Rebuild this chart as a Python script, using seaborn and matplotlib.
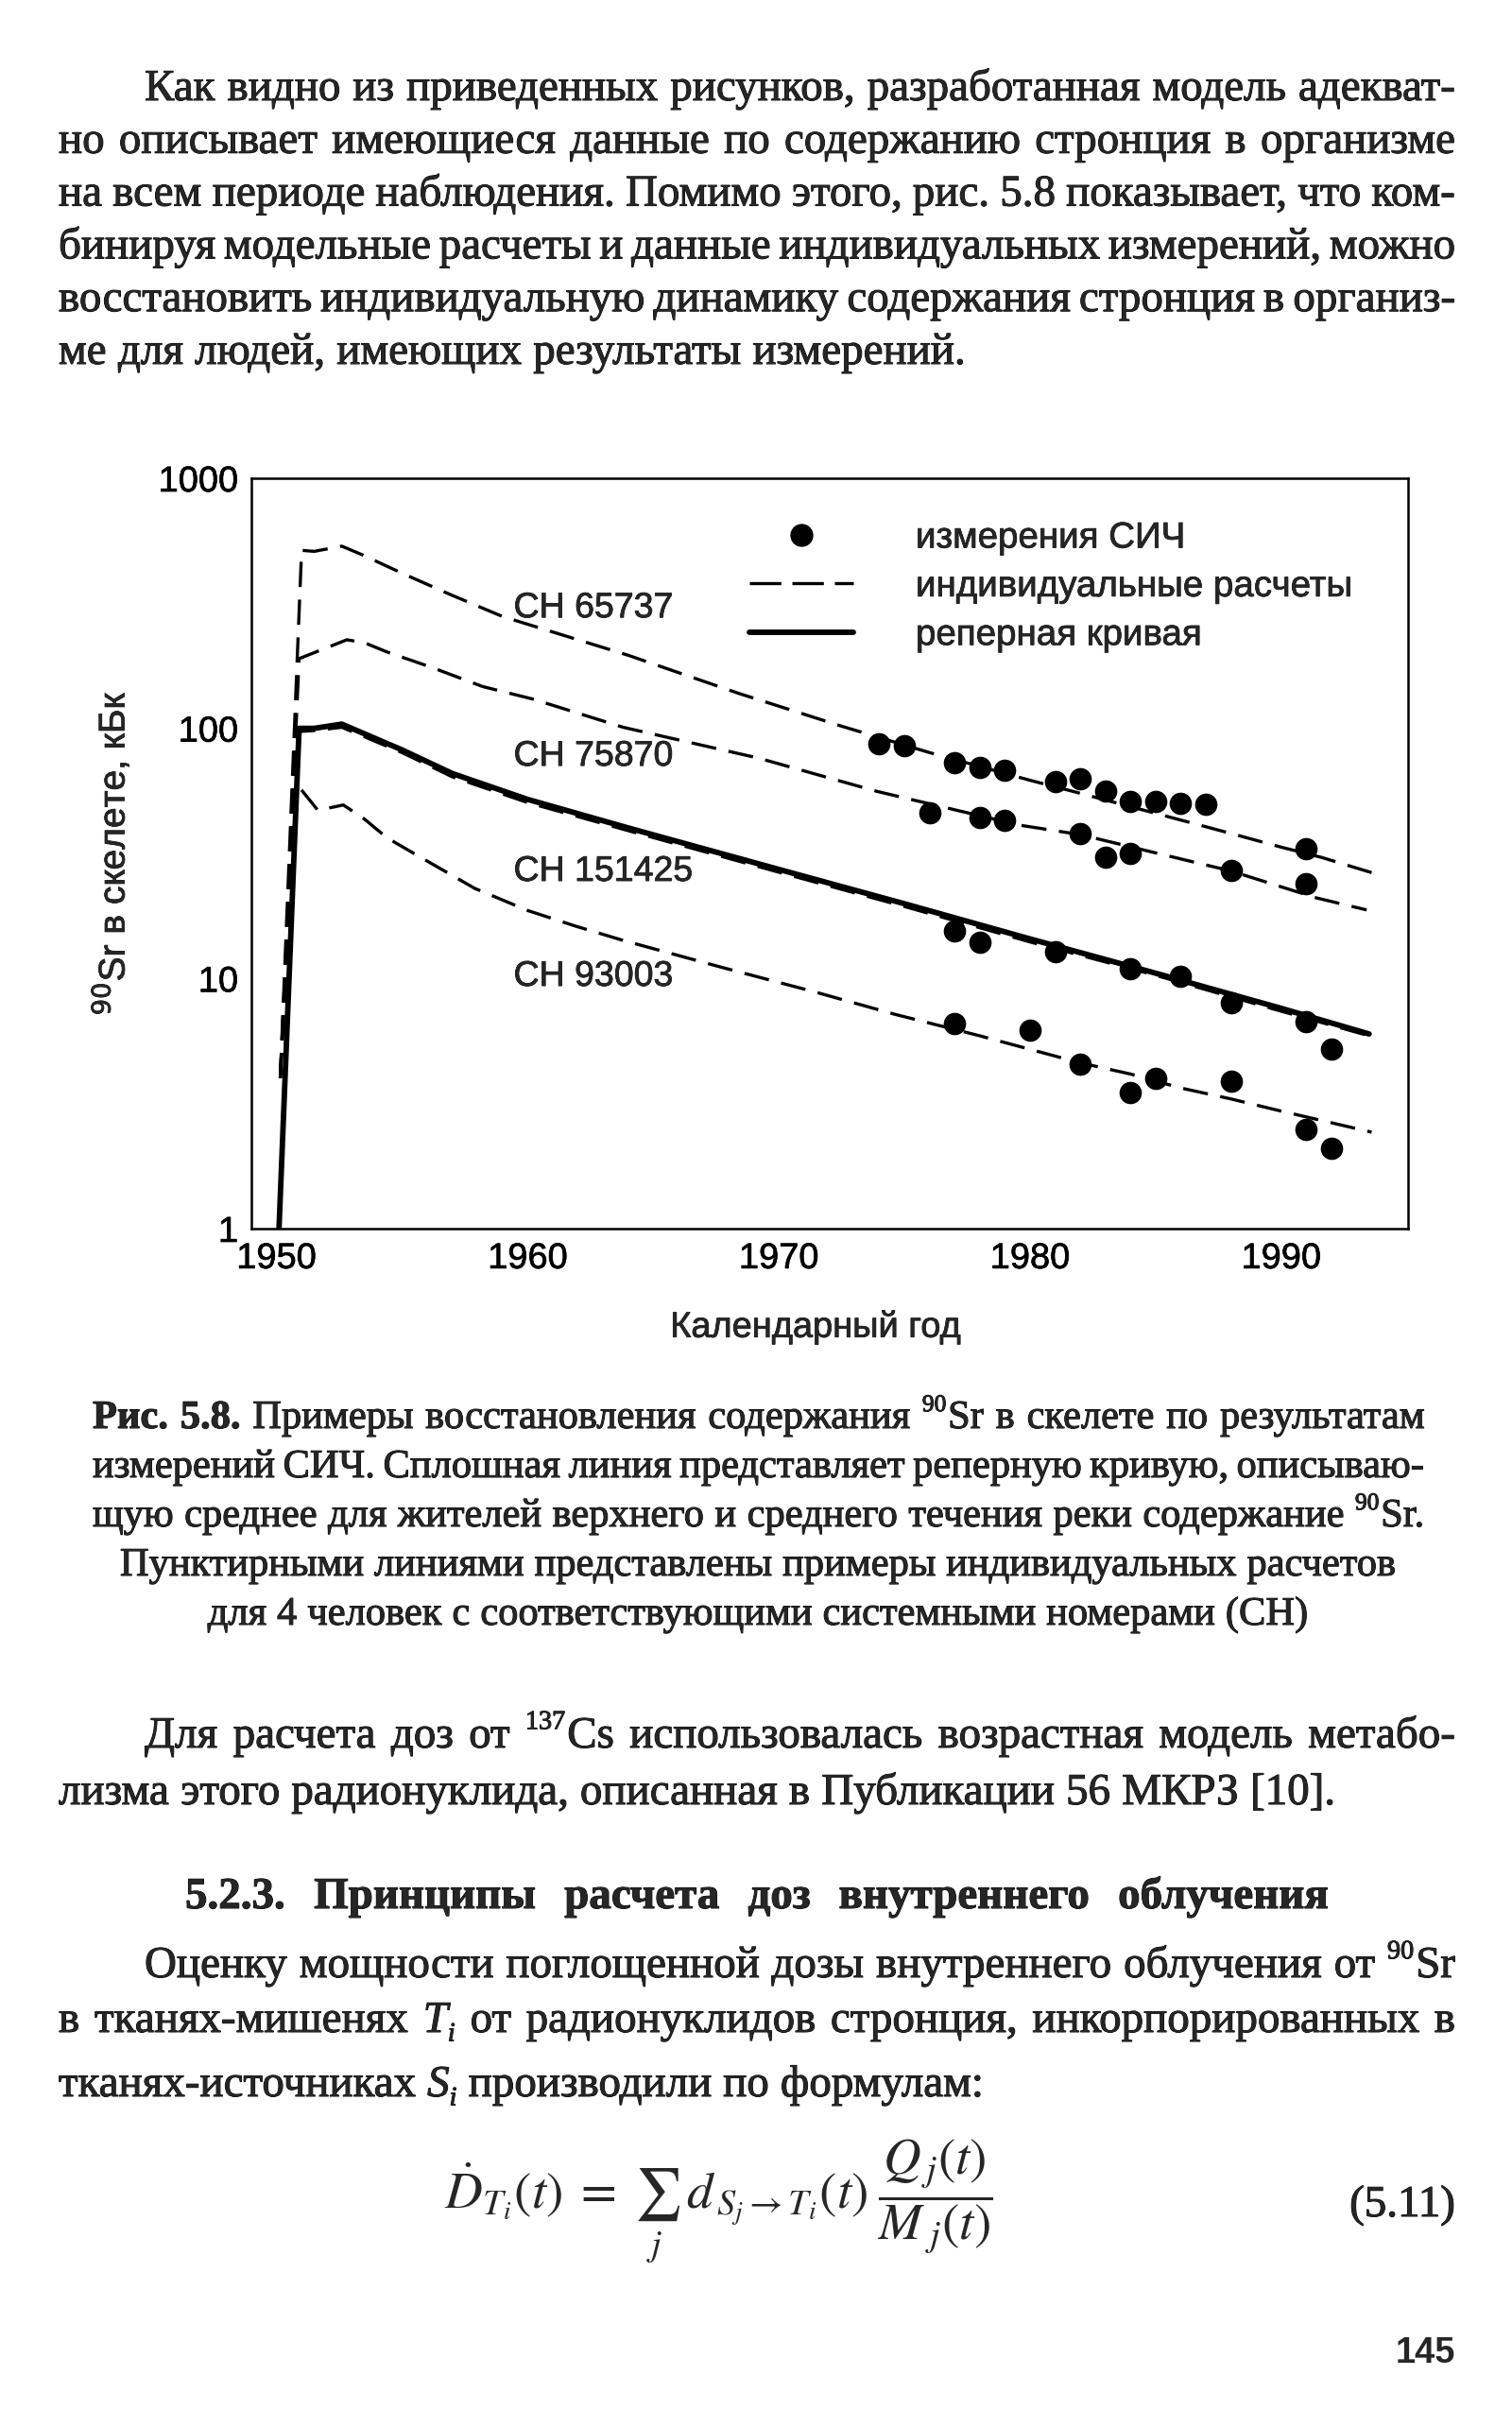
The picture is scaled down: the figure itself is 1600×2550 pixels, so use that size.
import re
import matplotlib
matplotlib.use("Agg")
import matplotlib.pyplot as plt
import matplotlib.ticker as mticker
import matplotlib.patheffects as pe
from matplotlib.lines import Line2D
from matplotlib.transforms import IdentityTransform
import numpy as np
import seaborn as sns

W, H, DPI = 1600, 2550, 100
PT = 72 / DPI  # points per pixel

# --- chart data (years, kBq) ----------------------------------------------
ref_year = [1950.1, 1950.9, 1951.5, 1952.6, 1955, 1957, 1960, 1964, 1970, 1975, 1980, 1985, 1990, 1993.5]
ref_val = [1, 100, 100, 104, 82, 66, 52, 40, 27.3, 19.9, 14.4, 10.5, 7.6, 6.0]

c65737_year = [1950.15, 1951.0, 1951.5, 1952.6, 1953.4, 1955, 1957, 1959, 1964, 1968.4, 1972.5,
               1976, 1980, 1982, 1986, 1988, 1990, 1991.6, 1993.6]
c65737_val = [4, 515, 510, 535, 495, 417, 340, 280, 196, 138, 102, 80, 62, 55, 43, 38, 33.5, 30.5, 26.5]

c75870_year = [1950.15, 1950.9, 1952.8, 1953.5, 1954.4, 1956.2, 1958.2, 1960.2, 1963.8, 1969.2,
               1973.9, 1979.6, 1982, 1984.6, 1988, 1991.4, 1993.4]
c75870_val = [4, 190, 226, 220, 202, 175, 147, 131, 101, 76, 56, 41, 37.6, 32.5, 26.9, 21, 18.8]

c151425_year = [1950.15, 1950.8, 1951.5, 1952.6, 1955, 1957, 1960, 1964, 1970, 1975, 1980, 1985, 1990, 1993.5]
c151425_val = [4, 97, 98, 101, 80, 64, 50.5, 39, 26.6, 19.4, 14.0, 10.3, 7.4, 5.9]

c93003_year = [1950.15, 1950.8, 1951.65, 1952.66, 1953.5, 1954.4, 1955.5, 1957.9, 1960, 1961.9,
               1963.8, 1967.7, 1971.5, 1974.6, 1978, 1982, 1984, 1986, 1988, 1990, 1992, 1993.6]
c93003_val = [4, 60, 47, 49.4, 43.4, 36.5, 31.5, 22.9, 18.7, 16.2, 14.2, 11.1, 8.8, 7.2, 5.9, 4.6,
              4.15, 3.65, 3.3, 2.95, 2.65, 2.43]

# WBC ("СИЧ") measurements
m65737_year = [1974, 1975, 1977, 1978, 1979, 1981, 1982, 1983, 1984, 1985, 1986, 1987, 1991]
m65737_val = [87, 85, 73, 70, 68, 61, 63, 56, 51, 51, 50, 49.5, 33]
m75870_year = [1976, 1978, 1979, 1982, 1983, 1984, 1988, 1991]
m75870_val = [46, 44, 43, 38, 30.5, 31.5, 27, 24]
m151425_year = [1977, 1978, 1981, 1984, 1986, 1988, 1991, 1992]
m151425_val = [15.5, 14, 12.8, 10.9, 10.2, 8.0, 6.7, 5.2]
m93003_year = [1977, 1980, 1982, 1984, 1985, 1988, 1991, 1992]
m93003_val = [6.6, 6.2, 4.55, 3.5, 4.0, 3.9, 2.5, 2.1]

curve_names = ["СН 65737", "СН 75870", "СН 151425", "СН 93003"]
curve_label_y = [303, 77.4, 26.8, 10.2]
legend_labels = ["измерения СИЧ", "индивидуальные расчеты", "реперная кривая"]

# --- page text ------------------------------------------------------------
para1 = [
    "Как видно из приведенных рисунков, разработанная модель адекват-",
    "но описывает имеющиеся данные по содержанию стронция в организме",
    "на всем периоде наблюдения. Помимо этого, рис. 5.8 показывает, что ком-",
    "бинируя модельные расчеты и данные индивидуальных измерений, можно",
    "восстановить индивидуальную динамику содержания стронция в организ-",
    "ме для людей, имеющих результаты измерений.",
]
caption = [
    "<b>Рис.</b> <b>5.8.</b> Примеры восстановления содержания <sup>90</sup>Sr в скелете по результатам",
    "измерений СИЧ. Сплошная линия представляет реперную кривую, описываю-",
    "щую среднее для жителей верхнего и среднего течения реки содержание <sup>90</sup>Sr.",
    "Пунктирными линиями представлены примеры индивидуальных расчетов",
    "для 4 человек с соответствующими системными номерами (СН)",
]
para2 = [
    "Для расчета доз от <sup>137</sup>Cs использовалась возрастная модель метабо-",
    "лизма этого радионуклида, описанная в Публикации 56 МКРЗ [10].",
]
heading = "<b>5.2.3.</b> <b>Принципы</b> <b>расчета</b> <b>доз</b> <b>внутреннего</b> <b>облучения</b>"
para3 = [
    "Оценку мощности поглощенной дозы внутреннего облучения от <sup>90</sup>Sr",
    "в тканях-мишенях <i>T</i><sub>i</sub> от радионуклидов стронция, инкорпорированных в",
    "тканях-источниках <i>S</i><sub>i</sub> производили по формулам:",
]
formula = (r"$\dot{D}_{T_i}(t)\;=\;\sum_{j}\; d_{\,S_j \rightarrow T_i}(t)\;"
           r"\dfrac{Q_{\,j}(t)}{M_{\;j}(t)}$")

sns.set_style("white")
plt.rcParams["font.family"] = ["Liberation Sans", "DejaVu Sans"]

fig = plt.figure(figsize=(W / DPI, H / DPI), dpi=DPI)
fig.patch.set_facecolor("white")
renderer = fig.canvas.get_renderer()

INK = [pe.withStroke(linewidth=0.7, foreground="black")]
INK_SANS = [pe.withStroke(linewidth=0.5, foreground="black")]
TAG = re.compile(r"<(b|i|sup|sub)>(.*?)</\1>")


def runs_of(word):
    out, pos = [], 0
    for m in TAG.finditer(word):
        if m.start() > pos:
            out.append((word[pos:m.start()], "r"))
        out.append((m.group(2), m.group(1)))
        pos = m.end()
    if pos < len(word):
        out.append((word[pos:], "r"))
    return out


def text_line(line, y, x0, x1=None, size=47, align="justify", family="Liberation Serif"):
    """One printed line, pixel units, y is the baseline measured from the top."""
    base = H - y
    words = []
    for w in line.split(" "):
        parts = []
        for seg, kind in runs_of(w):
            fs = size * (0.6 if kind in ("sup", "sub") else 1.0)
            t = fig.text(0, 0, seg, transform=IdentityTransform(), fontsize=fs * PT,
                         family=family, va="baseline", ha="left",
                         weight="bold" if kind == "b" else "normal",
                         style="italic" if kind in ("i", "sub") else "normal",
                         path_effects=INK)
            wd = t.get_window_extent(renderer).width + (0.04 * size if kind == "sup" else 0)
            parts.append((t, kind, wd))
        words.append(parts)
    widths = [sum(p[2] for p in parts) for parts in words]
    space = 0.26 * size
    if align == "justify" and len(words) > 1:
        gap = (x1 - x0 - sum(widths)) / (len(words) - 1)
        x = x0
    elif align == "center":
        gap = space
        x = x0 - (sum(widths) + gap * (len(words) - 1)) / 2
    else:
        gap, x = space, x0
    for parts, wd in zip(words, widths):
        cx = x
        for t, kind, tw in parts:
            dy = 0.42 * size if kind == "sup" else (-0.2 * size if kind == "sub" else 0)
            t.set_position((cx, base + dy))
            cx += tw
        x += wd + gap


# paragraph above the figure
for i, line in enumerate(para1):
    last = i == len(para1) - 1
    text_line(line, 106 + 55.8 * i, 153 if i == 0 else 62, 1540, size=47,
              align="left" if last else "justify")

# --- the chart ------------------------------------------------------------
ax = fig.add_axes([266 / W, 1 - 1300 / H, (1490 - 266) / W, (1300 - 506) / H])
ax.set_yscale("log")

DASH = (0, (8, 4))
for yrs, vals in [(c65737_year, c65737_val), (c75870_year, c75870_val),
                  (c151425_year, c151425_val), (c93003_year, c93003_val)]:
    sns.lineplot(x=yrs, y=vals, ax=ax, color="black", lw=2.4, linestyle=DASH,
                 estimator=None, sort=False)
sns.lineplot(x=ref_year, y=ref_val, ax=ax, color="black", lw=4.2, estimator=None, sort=False)

for yrs, vals in [(m65737_year, m65737_val), (m75870_year, m75870_val),
                  (m151425_year, m151425_val), (m93003_year, m93003_val)]:
    sns.scatterplot(x=yrs, y=vals, ax=ax, color="black", s=290, linewidth=0, zorder=4)

for name, yv in zip(curve_names, curve_label_y):
    ax.text(1959.44, yv, name, fontsize=37.5 * PT, va="center", ha="left", path_effects=INK_SANS)

ax.set_xlim(1949.0, 1995.05)
ax.set_ylim(1, 1000)
ax.xaxis.set_major_locator(mticker.MultipleLocator(10))
ax.xaxis.set_minor_locator(mticker.MultipleLocator(2))
ax.yaxis.set_major_locator(mticker.LogLocator(base=10))
ax.yaxis.set_minor_locator(mticker.LogLocator(base=10, subs=np.arange(2, 10)))
ax.yaxis.set_major_formatter(mticker.FuncFormatter(lambda v, _: f"{v:g}"))
ax.yaxis.set_minor_formatter(mticker.NullFormatter())
ax.tick_params(which="both", direction="in", width=1.8, colors="black",
               top=False, right=False, labelsize=38 * PT)
ax.tick_params(which="major", length=12, pad=10)
ax.tick_params(which="minor", length=7)
for s in ax.spines.values():
    s.set_linewidth(1.8)
    s.set_color("black")
for lab in ax.get_xticklabels() + ax.get_yticklabels():
    lab.set_path_effects(INK_SANS)

ax.set_xlabel("Календарный год", fontsize=38 * PT, path_effects=INK_SANS)
ax.xaxis.set_label_coords(0.4877, -0.108)
ax.set_ylabel(r"$^{90}$Sr в скелете, кБк", fontsize=39 * PT, math_fontfamily="dejavusans",
              path_effects=INK_SANS)
ax.yaxis.set_label_coords(-0.103, 0.5)

handles = [Line2D([], [], marker="o", ls="none", color="black", ms=16.5),
           Line2D([], [], color="black", lw=2.4, ls=(0, (10, 3.5))),
           Line2D([], [], color="black", lw=4.2)]
leg = ax.legend(handles, legend_labels, loc="upper left", bbox_to_anchor=(0.4306, 0.9427),
                frameon=False, fontsize=38.5 * PT, handlelength=2.86, handletextpad=1.71,
                labelspacing=0.4, borderaxespad=0, borderpad=0)
for t in leg.get_texts():
    t.set_path_effects(INK_SANS)

# --- caption and text below -----------------------------------------------
for i, line in enumerate(caption):
    if i < 3:
        text_line(line, 1511 + 52 * i, 98, 1507, size=42.5)
    else:
        text_line(line, 1511 + 52 * i, 802, size=42.5, align="center")

text_line(para2[0], 1849, 153, 1540)
text_line(para2[1], 1909, 62, align="left")
text_line(heading, 2019, 196, 1406)
text_line(para3[0], 2092, 153, 1540)
text_line(para3[1], 2150, 62, 1540)
text_line(para3[2], 2218, 62, align="left")

fig.text(470, H - 2330, formula, transform=IdentityTransform(), fontsize=55 * PT,
         math_fontfamily="stix", va="center", ha="left")
fig.text(1540, H - 2345, "(5.11)", transform=IdentityTransform(), fontsize=47 * PT,
         family="Liberation Serif", va="baseline", ha="right", path_effects=INK)
fig.text(1540, H - 2500, "145", transform=IdentityTransform(), fontsize=38 * PT,
         family="Liberation Sans", weight="bold", va="baseline", ha="right")

fig.savefig("out.png", dpi=DPI, facecolor="white")
